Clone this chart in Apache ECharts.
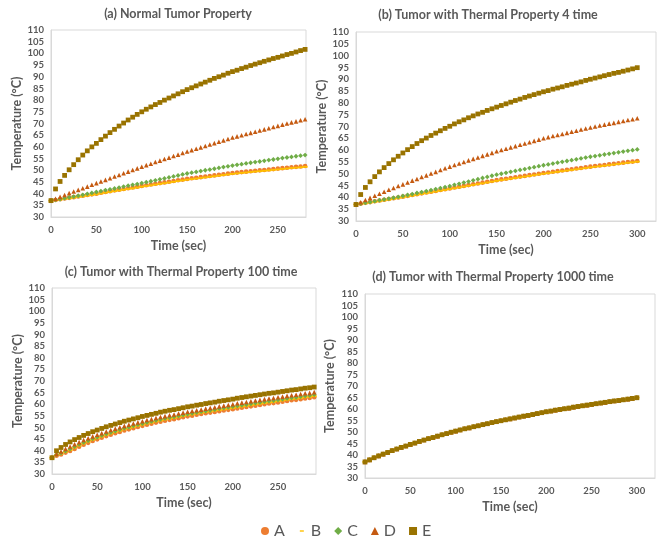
<!DOCTYPE html>
<html><head><meta charset="utf-8">
<script src="https://cdn.jsdelivr.net/npm/echarts@6/dist/echarts.min.js"></script>
<style>html,body{margin:0;padding:0;background:#fff}#c{width:665px;height:539px}</style>
</head><body><div id="c"></div>
<script>
// ---------- DATA ----------
const seriesNames = ['A', 'B', 'C', 'D', 'E'];
const panelTitles = [
  '(a) Normal Tumor Property',
  '(b) Tumor with Thermal Property 4 time',
  '(c) Tumor with Thermal Property 100 time',
  '(d) Tumor with Thermal Property 1000 time'
];
const xAxisTitle = 'Time (sec)';
const yAxisTitle = 'Temperature (\u00B0C)';

const timeSec = [0,5,10,15,20,25,30,35,40,45,50,55,60,65,70,75,80,85,90,95,100,
  105,110,115,120,125,130,135,140,145,150,155,160,165,170,175,180,185,190,195,200,
  205,210,215,220,225,230,235,240,245,250,255,260,265,270,275,280,285,290,295,300];

// (a) Normal tumor property, t = 0..280
const a_A = [37,37.3,37.6,37.9,38.2,38.5,38.8,39.1,39.4,39.7,40,
  40.35,40.7,41.05,41.4,41.7,42,42.3,42.6,42.95,43.3,
  43.6,43.9,44.2,44.5,44.8,45.1,45.4,45.7,46,46.3,
  46.55,46.8,47.05,47.3,47.55,47.8,48.05,48.3,48.55,48.8,
  49,49.2,49.4,49.6,49.8,49.95,50.1,50.3,50.5,50.7,
  50.9,51.1,51.3,51.45,51.6,51.8];
const a_B = [37,37.15,37.4,37.7,37.95,38.25,38.5,38.8,39.1,39.4,39.7,
  40.05,40.4,40.7,41.05,41.35,41.65,41.95,42.25,42.6,42.95,
  43.25,43.55,43.85,44.15,44.45,44.75,45.05,45.35,45.65,45.95,
  46.2,46.45,46.7,46.95,47.2,47.45,47.7,47.95,48.2,48.45,
  48.65,48.85,49.05,49.25,49.45,49.6,49.75,49.95,50.15,50.35,
  50.55,50.75,50.95,51.1,51.25,51.45];
const a_C = [37,37.35,37.7,38.05,38.4,38.75,39.1,39.5,39.9,40.3,40.7,
  41.1,41.5,41.85,42.2,42.6,43,43.4,43.75,44.1,44.5,
  44.9,45.3,45.7,46.1,46.5,46.95,47.35,47.75,48.2,48.6,
  48.95,49.3,49.65,50,50.3,50.65,51,51.35,51.7,52,
  52.3,52.6,52.9,53.2,53.5,53.75,54.05,54.35,54.6,54.9,
  55.2,55.45,55.7,56,56.25,56.5];
const a_D = [37,37.8,38.6,39.4,40.2,40.9,41.6,42.3,43,43.8,44.5,
  45.2,45.9,46.6,47.3,48,48.7,49.4,50.1,50.8,51.5,
  52.2,52.8,53.5,54.1,54.8,55.4,56.1,56.7,57.4,58,
  58.6,59.2,59.8,60.4,61,61.6,62.2,62.8,63.4,64,
  64.5,65,65.5,66,66.5,67,67.5,68,68.5,69,
  69.5,70,70.5,70.9,71.4,71.8];
const a_E = [37,42,45.2,47.8,50.2,52.4,54.5,56.5,58.3,60,61.5,
  63.1,64.6,66.1,67.5,68.9,70.2,71.5,72.7,73.9,75,
  76.1,77.1,78.1,79,80,80.9,81.8,82.7,83.6,84.5,
  85.3,86.1,86.9,87.7,88.5,89.3,90,90.7,91.5,92.2,
  92.8,93.5,94.1,94.8,95.4,96,96.6,97.2,97.8,98.3,
  98.9,99.5,100,100.6,101.2,101.7];

// (b) Thermal property x4, t = 0..300
const b_A = [37,37.35,37.7,38,38.35,38.65,39,39.3,39.65,39.95,40.3,
  40.65,41,41.35,41.7,42.05,42.4,42.75,43.1,43.45,43.8,
  44.15,44.5,44.85,45.2,45.55,45.9,46.25,46.6,46.95,47.3,
  47.6,47.9,48.2,48.5,48.8,49.1,49.4,49.7,50,50.3,
  50.55,50.85,51.1,51.4,51.65,51.9,52.2,52.45,52.75,53,
  53.25,53.5,53.7,53.95,54.2,54.45,54.7,54.95,55.15,55.4];
const b_B = [37,37.2,37.45,37.75,38.05,38.35,38.7,39,39.35,39.65,40,
  40.35,40.7,41.05,41.4,41.75,42.1,42.45,42.8,43.15,43.5,
  43.85,44.2,44.55,44.9,45.25,45.6,45.95,46.3,46.65,47,
  47.3,47.6,47.9,48.2,48.5,48.8,49.1,49.4,49.7,50,
  50.25,50.55,50.8,51.1,51.35,51.6,51.9,52.15,52.45,52.7,
  52.95,53.2,53.4,53.65,53.9,54.15,54.4,54.65,54.85,55.1];
const b_C = [37,37.35,37.7,38.05,38.4,38.8,39.15,39.5,39.85,40.2,40.6,
  41,41.4,41.85,42.25,42.65,43.1,43.5,43.95,44.35,44.8,
  45.3,45.75,46.25,46.7,47.2,47.7,48.2,48.65,49.15,49.6,
  50,50.4,50.8,51.2,51.6,52,52.4,52.8,53.2,53.6,
  53.95,54.3,54.7,55.05,55.4,55.75,56.1,56.5,56.85,57.2,
  57.5,57.8,58.15,58.45,58.75,59.05,59.4,59.7,60,60.3];
const b_D = [37,37.95,38.9,39.8,40.7,41.55,42.4,43.2,44,44.8,45.5,
  46.3,47.1,47.8,48.6,49.3,50.1,50.8,51.6,52.3,53,
  53.7,54.35,55,55.65,56.3,56.9,57.55,58.2,58.85,59.5,
  60.05,60.6,61.15,61.7,62.25,62.8,63.35,63.9,64.45,65,
  65.5,65.95,66.4,66.85,67.3,67.75,68.2,68.7,69.15,69.6,
  70,70.4,70.8,71.2,71.55,71.95,72.35,72.75,73.1,73.5];
const b_E = [37,41.2,44.2,46.6,48.8,50.8,52.6,54.3,55.9,57.4,58.8,
  60.2,61.5,62.8,64,65.1,66.2,67.2,68.2,69.2,70.1,
  71.1,72,72.8,73.7,74.5,75.3,76,76.8,77.5,78.2,
  78.9,79.6,80.3,81,81.6,82.3,82.9,83.5,84.1,84.7,
  85.2,85.8,86.3,86.8,87.4,87.9,88.4,88.9,89.5,90,
  90.5,91,91.5,92,92.5,92.9,93.4,93.9,94.4,94.9];

// (c) Thermal property x100, t = 0..290
const c_A = [37,37.9,38.4,39.2,39.9,40.8,41.7,42.6,43.4,44.2,44.9,
  45.6,46.3,46.9,47.5,48.1,48.7,49.2,49.7,50.2,50.7,
  51.2,51.6,52.1,52.5,52.9,53.3,53.6,54,54.4,54.8,
  55.1,55.5,55.8,56.1,56.4,56.7,57,57.3,57.6,57.9,
  58.2,58.5,58.8,59.1,59.4,59.7,60,60.3,60.5,60.8,
  61.1,61.4,61.7,61.9,62.2,62.5,62.7,63];
const c_B = [37,38.1,38.7,39.5,40.3,41.3,42.2,43.1,43.9,44.7,45.4,
  46.1,46.8,47.4,48,48.6,49.2,49.7,50.2,50.7,51.2,
  51.7,52.1,52.6,53,53.4,53.8,54.1,54.5,54.9,55.3,
  55.6,56,56.3,56.6,56.9,57.2,57.5,57.8,58.1,58.4,
  58.7,59,59.3,59.6,59.9,60.2,60.5,60.8,61,61.3,
  61.6,61.9,62.2,62.4,62.7,63,63.2,63.5];
const c_C = [37,38.3,39,39.9,40.8,41.8,42.7,43.6,44.4,45.2,45.9,
  46.6,47.3,47.9,48.5,49.1,49.7,50.2,50.7,51.2,51.7,
  52.2,52.6,53.1,53.5,53.9,54.3,54.6,55,55.4,55.8,
  56.1,56.5,56.8,57.1,57.4,57.7,58.1,58.4,58.7,59,
  59.3,59.6,59.9,60.2,60.5,60.8,61.1,61.4,61.6,61.9,
  62.2,62.5,62.8,63,63.3,63.6,63.8,64.1];
const c_D = [37,38.6,39.7,40.8,41.8,42.8,43.7,44.6,45.4,46.2,46.9,
  47.6,48.3,48.9,49.5,50.1,50.7,51.2,51.7,52.2,52.7,
  53.2,53.6,54.1,54.5,54.9,55.3,55.6,56,56.4,56.8,
  57.1,57.4,57.7,58.1,58.4,58.7,59.1,59.4,59.7,60,
  60.4,60.7,61,61.3,61.6,61.9,62.2,62.5,62.7,63,
  63.3,63.6,63.9,64.1,64.4,64.7,64.9,65.2];
const c_E = [37,40,41.4,42.7,43.8,44.8,45.7,46.6,47.4,48.2,48.9,
  49.6,50.3,50.9,51.5,52.1,52.7,53.2,53.7,54.2,54.75,
  55.2,55.65,56.1,56.6,57,57.4,57.7,58.1,58.5,58.9,
  59.2,59.6,59.9,60.3,60.6,60.9,61.3,61.6,61.9,62.2,
  62.6,62.9,63.2,63.5,63.8,64.1,64.4,64.7,64.9,65.2,
  65.5,65.8,66.1,66.3,66.6,66.9,67.1,67.4];

// (d) Thermal property x1000, t = 0..300 (all five series coincide)
const d_all = [37,37.9,38.8,39.6,40.4,41.1,41.9,42.6,43.3,43.9,44.6,
  45.2,45.9,46.5,47.1,47.6,48.2,48.8,49.3,49.9,50.4,
  50.9,51.4,51.8,52.3,52.7,53.2,53.6,54.1,54.5,54.9,
  55.3,55.7,56.1,56.5,56.9,57.2,57.6,58,58.4,58.8,
  59.1,59.5,59.8,60.1,60.4,60.8,61.1,61.4,61.7,62,
  62.3,62.6,62.9,63.2,63.5,63.7,64,64.3,64.6,64.9];

const panelData = [
  [a_A, a_B, a_C, a_D, a_E],
  [b_A, b_B, b_C, b_D, b_E],
  [c_A, c_B, c_C, c_D, c_E],
  [d_all, d_all, d_all, d_all, d_all]
];
const xMaxes = [281, 320, 292, 320];

// ---------- STYLE / LAYOUT ----------
const FONT = 'Lato';
const TXT = '#595959';
const colors = ['#ED7D31', '#FFC000', '#70AD47', '#C55A11', '#997300'];
const symbols = ['circle', 'rect', 'diamond', 'triangle', 'rect'];
const symbolSizes = [4.6, [5, 1.8], 4.8, 4.6, 4.8];
const legendIcons = ['circle', 'path://M0,0M8,8M2,3.3h4v1.4h-4z', 'diamond', 'triangle', 'rect'];

const grids = [
  { left: 51, top: 30, width: 255, height: 187 },
  { left: 356, top: 32, width: 300, height: 189 },
  { left: 52, top: 288, width: 264, height: 186 },
  { left: 365, top: 294, width: 290, height: 184 }
];
const titlePos = [[178, 14], [488, 15], [181, 272], [493, 277]];
const yNameGaps = [25, 27, 24, 29];

const option = {
  animation: false,
  backgroundColor: '#fff',
  textStyle: { fontFamily: FONT },
  grid: grids.map(g => Object.assign({ show: true, borderColor: '#d9d9d9', borderWidth: 1, containLabel: false }, g)),
  xAxis: grids.map((g, i) => ({
    gridIndex: i, type: 'value', min: 0, max: xMaxes[i], interval: 50,
    name: xAxisTitle, nameLocation: 'middle', nameGap: 22,
    nameTextStyle: { color: TXT, fontSize: 12.5, fontWeight: 'bold', fontFamily: FONT },
    axisLine: { show: true, lineStyle: { color: '#d9d9d9' } },
    axisTick: { show: false }, splitLine: { show: false },
    axisLabel: { color: TXT, fontSize: 9.5, fontWeight: 'bold', fontFamily: FONT, margin: 8, showMaxLabel: false }
  })),
  yAxis: grids.map((g, i) => ({
    gridIndex: i, type: 'value', min: 30, max: 110, interval: 5,
    name: yAxisTitle, nameLocation: 'middle', nameGap: yNameGaps[i], nameRotate: 90,
    nameTextStyle: { color: TXT, fontSize: 12.5, fontWeight: 'bold', fontFamily: FONT },
    axisLine: { show: true, lineStyle: { color: '#d9d9d9' } },
    axisTick: { show: false }, splitLine: { show: false },
    axisLabel: { color: TXT, fontSize: 9.5, fontWeight: 'bold', fontFamily: FONT, margin: 7 }
  })),
  legend: {
    top: 518, left: 256, itemWidth: 8, itemHeight: 8, itemGap: 13,
    textStyle: { color: TXT, fontSize: 16, fontFamily: FONT },
    data: seriesNames.map((n, k) => ({ name: n, icon: legendIcons[k], itemStyle: { color: colors[k] } }))
  },
  graphic: panelTitles.map((t, i) => ({
    type: 'text', x: titlePos[i][0], y: titlePos[i][1],
    style: { text: t, fill: TXT, font: 'bold 12.5px ' + FONT, textAlign: 'center', textVerticalAlign: 'middle' }
  })),
  series: []
};

panelData.forEach((arrs, p) => {
  arrs.forEach((vals, k) => {
    option.series.push({
      type: 'scatter', name: seriesNames[k],
      xAxisIndex: p, yAxisIndex: p,
      symbol: symbols[k], symbolSize: symbolSizes[k],
      itemStyle: { color: colors[k], opacity: 1 },
      z: 2 + k,
      data: vals.map((v, i) => [timeSec[i], v])
    });
  });
});

const chart = echarts.init(document.getElementById('c'), null, { renderer: 'canvas' });
chart.setOption(option);
</script>
</body></html>
